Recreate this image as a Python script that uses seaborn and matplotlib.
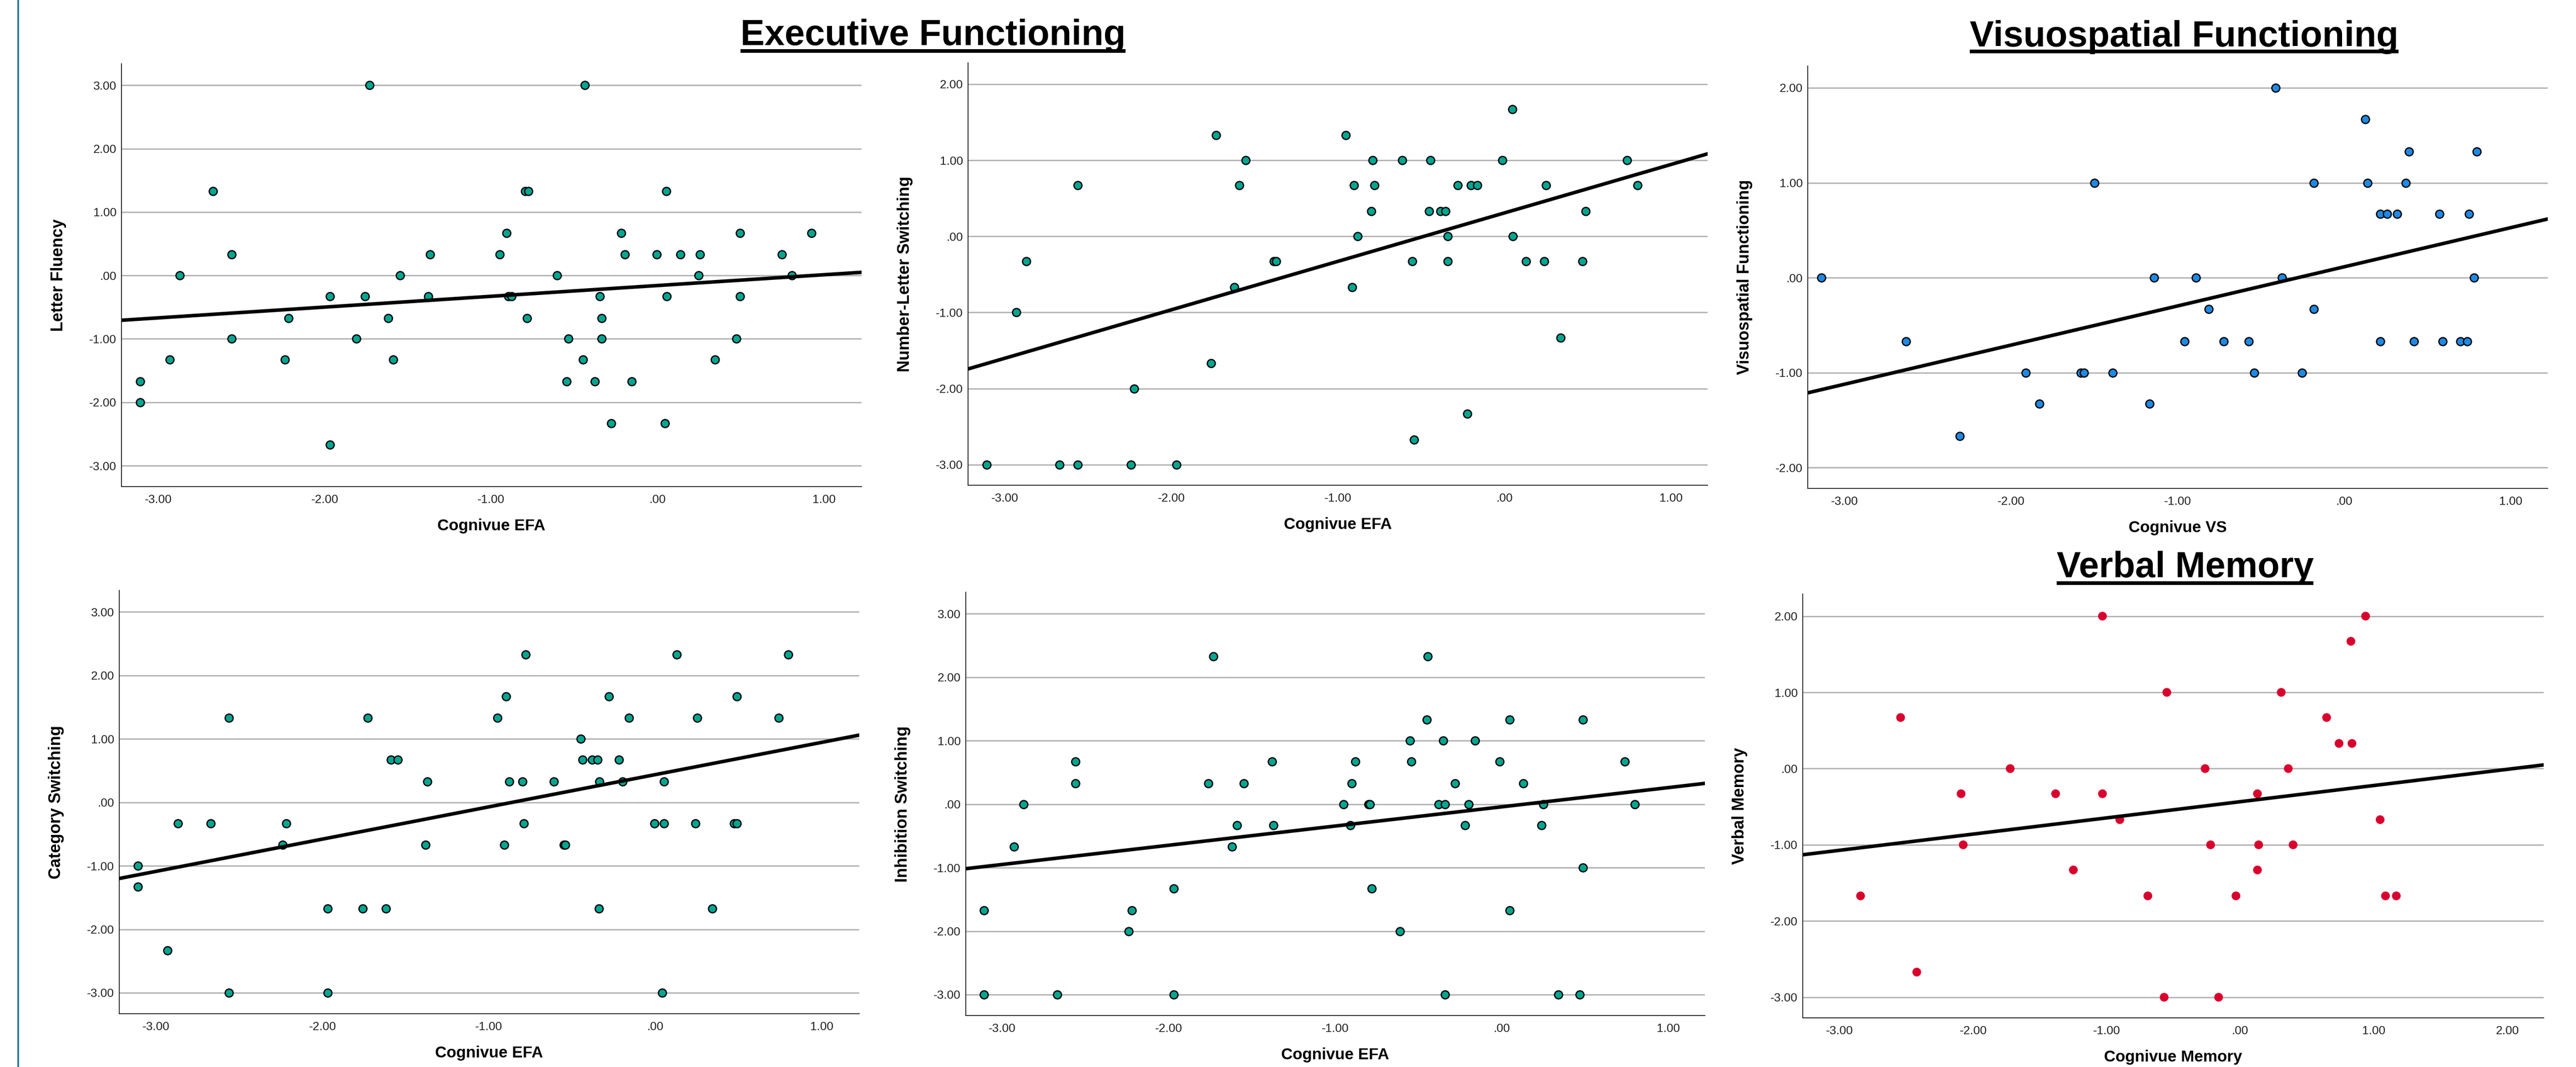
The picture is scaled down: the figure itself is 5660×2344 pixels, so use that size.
import matplotlib
matplotlib.use("Agg")
import matplotlib.pyplot as plt
from matplotlib.lines import Line2D
import seaborn as sns
import numpy as np

# ---------------- data ----------------
lf_x = [-1.731, -0.439, -2.670, -0.796, -0.776, 0.051, -0.908, -0.218, 0.493, 0.922,
        -2.558, -1.367, -0.949, -0.197, -0.007, 0.136, 0.255, 0.745,
        -2.871, -1.548, -0.605, 0.245, 0.806,
        -1.969, -1.759, -1.378, -0.898, -0.878, -0.347, 0.054, 0.493,
        -2.218, -1.619, -0.786, -0.337,
        -2.558, -1.810, -0.537, -0.337, 0.473,
        -2.929, -2.238, -1.588, -0.449, 0.344,
        -3.109, -0.548, -0.378, -0.156,
        -3.109, -0.279, 0.044, -1.969]
lf_y = [3.00, 3.00, 1.33, 1.33, 1.33, 1.33, 0.67, 0.67, 0.67, 0.67,
        0.33, 0.33, 0.33, 0.33, 0.33, 0.33, 0.33, 0.33,
        0.00, 0.00, 0.00, 0.00, 0.00,
        -0.33, -0.33, -0.33, -0.33, -0.33, -0.33, -0.33, -0.33,
        -0.67, -0.67, -0.67, -0.67,
        -1.00, -1.00, -1.00, -1.00, -1.00,
        -1.33, -1.33, -1.33, -1.33, -1.33,
        -1.67, -1.67, -1.67, -1.67,
        -2.00, -2.33, -2.33, -2.67]

nl_x = [0.046, -1.732, -0.954, -1.553, -0.791, -0.613, -0.444, -0.013, 0.735,
        -2.563, -1.593, -0.904, -0.781, -0.281, -0.202, -0.162, 0.248, 0.798,
        -0.801, -0.454, -0.384, -0.354, 0.487,
        -0.881, -0.341, 0.050,
        -2.871, -1.384, -1.371, -0.553, -0.341, 0.129, 0.238, 0.467,
        -1.623, -0.914, -2.930, 0.338, -1.762, -2.222, -0.222, -0.543,
        -3.109, -2.672, -2.563, -2.242, -1.970]
nl_y = [1.67, 1.33, 1.33, 1.00, 1.00, 1.00, 1.00, 1.00, 1.00,
        0.67, 0.67, 0.67, 0.67, 0.67, 0.67, 0.67, 0.67, 0.67,
        0.33, 0.33, 0.33, 0.33, 0.33,
        0.00, 0.00, 0.00,
        -0.33, -0.33, -0.33, -0.33, -0.33, -0.33, -0.33, -0.33,
        -0.67, -0.67, -1.00, -1.33, -1.67, -2.00, -2.33, -2.67,
        -3.00, -3.00, -3.00, -3.00, -3.00]

vs_x = [-0.412, 0.126, 0.389, 0.797, -1.501, -0.182, 0.139, 0.370,
        0.217, 0.256, 0.318, 0.571, 0.749,
        -3.141, -1.141, -0.891, -0.373, 0.778,
        -0.814, -0.182,
        -2.632, -0.959, -0.723, -0.574, 0.217, 0.418, 0.590, 0.697, 0.739,
        -1.912, -1.582, -1.562, -1.391, -0.541, -0.253,
        -1.831, -1.170, -2.310]
vs_y = [2.00, 1.67, 1.33, 1.33, 1.00, 1.00, 1.00, 1.00,
        0.67, 0.67, 0.67, 0.67, 0.67,
        0.00, 0.00, 0.00, 0.00, 0.00,
        -0.33, -0.33,
        -0.67, -0.67, -0.67, -0.67, -0.67, -0.67, -0.67, -0.67, -0.67,
        -1.00, -1.00, -1.00, -1.00, -1.00, -1.00,
        -1.33, -1.33, -1.67]

cs_x = [-0.779, 0.129, 0.799, -0.898, -0.279, 0.490,
        -2.561, -1.728, -0.949, -0.160, 0.252, 0.741, -0.449,
        -1.588, -1.548, -0.439, -0.381, -0.347, -0.218,
        -1.371, -0.878, -0.799, -0.609, -0.337, -0.197, 0.051,
        -2.867, -2.670, -2.218, -0.789, -0.007, 0.051, 0.241, 0.473, 0.490,
        -2.238, -1.381, -0.908, -0.551, -0.541,
        -3.109, -3.109, -1.969, -1.759, -1.619, -0.340, 0.340,
        -2.929, -2.561, -1.969, 0.041]
cs_y = [2.33, 2.33, 2.33, 1.67, 1.67, 1.67,
        1.33, 1.33, 1.33, 1.33, 1.33, 1.33, 1.00,
        0.67, 0.67, 0.67, 0.67, 0.67, 0.67,
        0.33, 0.33, 0.33, 0.33, 0.33, 0.33, 0.33,
        -0.33, -0.33, -0.33, -0.33, -0.33, -0.33, -0.33, -0.33, -0.33,
        -0.67, -0.67, -0.67, -0.67, -0.67,
        -1.00, -1.33, -1.67, -1.67, -1.67, -1.67, -1.67,
        -2.33, -3.00, -3.00, -3.00]

is_x = [-1.732, -0.444, -0.450, 0.046, 0.487, -0.553, -0.351, -0.162,
        -2.560, -1.381, -0.881, -0.543, -0.013, 0.738,
        -2.560, -1.762, -1.550, -0.901, -0.281, 0.129,
        -2.871, -0.950, -0.801, -0.791, -0.381, -0.341, -0.199, 0.248, 0.798,
        -1.589, -1.371, -0.911, -0.222, 0.238,
        -2.930, -1.619, 0.487, -1.970, -0.781,
        -3.109, -2.222, 0.046, -2.242, -0.613,
        -3.109, -2.669, -1.970, -0.341, 0.338, 0.467]
is_y = [2.33, 2.33, 1.33, 1.33, 1.33, 1.00, 1.00, 1.00,
        0.67, 0.67, 0.67, 0.67, 0.67, 0.67,
        0.33, 0.33, 0.33, 0.33, 0.33, 0.33,
        0.00, 0.00, 0.00, 0.00, 0.00, 0.00, 0.00, 0.00, 0.00,
        -0.33, -0.33, -0.33, -0.33, -0.33,
        -0.67, -0.67, -1.00, -1.33, -1.33,
        -1.67, -1.67, -1.67, -2.00, -2.00,
        -3.00, -3.00, -3.00, -3.00, -3.00, -3.00]

vm_x = [-1.032, 0.939, 0.829, -0.550, 0.307, -2.544, 0.647, 0.740, 0.837,
        -1.723, -0.263, 0.360, -2.091, -1.383, -1.032, 0.129,
        -0.902, 1.048, -2.075, -0.222, 0.138, 0.396, -1.250, 0.129,
        -2.844, -0.692, -0.032, 1.088, 1.169, -2.423, -0.570, -0.162]
vm_y = [2.00, 2.00, 1.67, 1.00, 1.00, 0.67, 0.67, 0.33, 0.33,
        0.00, 0.00, 0.00, -0.33, -0.33, -0.33, -0.33,
        -0.67, -0.67, -1.00, -1.00, -1.00, -1.00, -1.33, -1.33,
        -1.67, -1.67, -1.67, -1.67, -1.67, -2.67, -3.00, -3.00]

ef_xlabel = "Cognivue EFA"
titles = ["Executive Functioning", "Visuospatial Functioning", "Verbal Memory"]

# ---------------- style ----------------
sns.set_style("white")
plt.rcParams["font.family"] = ["Liberation Sans", "DejaVu Sans"]

W, H = 5660, 2344
fig = plt.figure(figsize=(W / 200, H / 200), dpi=200)
fig.patch.set_facecolor("white")

TEAL = "#00a692"
BLUE = "#1e8ae6"
RED = "#d9002f"


def box(l, r, t, b):
    return [l / W, 1 - b / H, (r - l) / W, (b - t) / H]


def fmt(v):
    if abs(v) < 1e-9:
        return ".00"
    return f"{v:.2f}"


panels = [
    dict(x=lf_x, y=lf_y, ylabel="Letter Fluency", xlabel=ef_xlabel, color=TEAL, edge=True,
         pos=box(267, 1893, 140, 1069), xlim=(-3.22, 1.224), ylim=(-3.33, 3.34),
         xt=[-3, -2, -1, 0, 1], yt=[-3, -2, -1, 0, 1, 2, 3]),
    dict(x=nl_x, y=nl_y, ylabel="Number-Letter Switching", xlabel=ef_xlabel, color=TEAL, edge=True,
         pos=box(2127, 3752, 138, 1066), xlim=(-3.22, 1.219), ylim=(-3.27, 2.28),
         xt=[-3, -2, -1, 0, 1], yt=[-3, -2, -1, 0, 1, 2]),
    dict(x=vs_x, y=vs_y, ylabel="Visuospatial Functioning", xlabel="Cognivue VS", color=BLUE, edge=True,
         pos=box(3972, 5598, 145, 1073), xlim=(-3.222, 1.222), ylim=(-2.22, 2.23),
         xt=[-3, -2, -1, 0, 1], yt=[-2, -1, 0, 1, 2]),
    dict(x=cs_x, y=cs_y, ylabel="Category Switching", xlabel=ef_xlabel, color=TEAL, edge=True,
         pos=box(262, 1888, 1297, 2227), xlim=(-3.22, 1.224), ylim=(-3.33, 3.34),
         xt=[-3, -2, -1, 0, 1], yt=[-3, -2, -1, 0, 1, 2, 3]),
    dict(x=is_x, y=is_y, ylabel="Inhibition Switching", xlabel=ef_xlabel, color=TEAL, edge=True,
         pos=box(2122, 3746, 1301, 2231), xlim=(-3.219, 1.219), ylim=(-3.33, 3.34),
         xt=[-3, -2, -1, 0, 1], yt=[-3, -2, -1, 0, 1, 2, 3]),
    dict(x=vm_x, y=vm_y, ylabel="Verbal Memory", xlabel="Cognivue Memory", color=RED, edge=False,
         pos=box(3961, 5589, 1305, 2236), xlim=(-3.277, 2.273), ylim=(-3.27, 2.29),
         xt=[-3, -2, -1, 0, 1, 2], yt=[-3, -2, -1, 0, 1, 2]),
]

for p in panels:
    ax = fig.add_axes(p["pos"])
    ax.set_xlim(*p["xlim"])
    ax.set_ylim(*p["ylim"])
    ax.set_axisbelow(True)
    if p["edge"]:
        skw = dict(s=40, color=p["color"], edgecolor="black", linewidths=1.0, alpha=1, zorder=3)
    else:
        skw = dict(s=48, color=p["color"], edgecolor="none", linewidths=0, alpha=1, zorder=3)
    sns.regplot(x=np.array(p["x"]), y=np.array(p["y"]), ax=ax, ci=None, truncate=False,
                scatter_kws=skw, line_kws=dict(color="black", lw=2.8, zorder=4))
    ax.set_xlim(*p["xlim"])
    ax.set_ylim(*p["ylim"])
    ax.set_xticks(p["xt"])
    ax.set_yticks(p["yt"])
    ax.set_xticklabels([fmt(v) for v in p["xt"]])
    ax.set_yticklabels([fmt(v) for v in p["yt"]])
    ax.tick_params(axis="both", length=0, labelsize=9.5, labelcolor="#222222")
    ax.tick_params(axis="x", pad=6)
    ax.tick_params(axis="y", pad=4)
    ax.yaxis.grid(True, color="#b4b4b4", lw=1.1)
    ax.xaxis.grid(False)
    for s in ["top", "right"]:
        ax.spines[s].set_visible(False)
    for s in ["left", "bottom"]:
        ax.spines[s].set_color("#222222")
        ax.spines[s].set_linewidth(0.7)
    axw = p["pos"][2] * W
    axh = p["pos"][3] * H
    ax.set_ylabel(p["ylabel"], fontsize=13, fontweight="bold", color="black")
    ax.yaxis.set_label_coords(-121 / axw, 0.5)
    ax.set_xlabel(p["xlabel"], fontsize=12.6, fontweight="bold", color="black")
    ax.xaxis.set_label_coords(0.5, -70 / axh)

# titles with underline
title_specs = [
    (titles[0], 2050, 99, 112),
    (titles[1], 4799, 102, 113),
    (titles[2], 4801, 1268, 1281),
]
title_objs = []
for txt, cx, base, ul in title_specs:
    t = fig.text(cx / W, 1 - base / H, txt, ha="center", va="baseline",
                 fontsize=28.6, fontweight="bold", color="black")
    title_objs.append((t, ul))

fig.canvas.draw()
for t, ul in title_objs:
    bb = t.get_window_extent()
    x0 = bb.x0 / fig.bbox.width
    x1 = bb.x1 / fig.bbox.width
    fig.add_artist(Line2D([x0, x1], [1 - ul / H, 1 - ul / H], transform=fig.transFigure,
                          color="black", lw=2.9, solid_capstyle="butt"))

# thin vertical rule at the far left
fig.add_artist(Line2D([40 / W, 40 / W], [0, 1], transform=fig.transFigure,
                      color="#2e77a1", lw=1.4))

fig.savefig("out.png", dpi=200, facecolor="white")
